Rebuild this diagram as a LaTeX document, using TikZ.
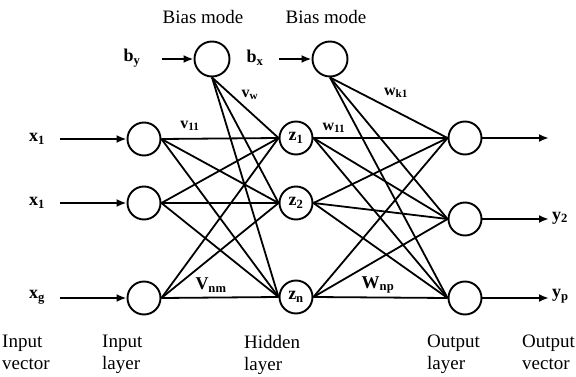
\documentclass[tikz,border=0pt]{standalone}
\usepackage{fontspec}
\setmainfont{Liberation Serif}
\usetikzlibrary{arrows.meta}
\begin{document}
\begin{tikzpicture}[x=1pt,y=-1pt,
  neuron/.style={circle,draw,line width=1.9pt,minimum size=33pt,inner sep=0pt,font=\fontsize{18}{20}\selectfont\bfseries},
  conn/.style={line width=1.8pt},
  feed/.style={line width=2pt,-{Latex[length=10pt,width=8pt]}},
  var/.style={font=\fontsize{18}{20}\selectfont\bfseries,inner sep=0pt},
  wlab/.style={font=\fontsize{16}{18}\selectfont\bfseries,inner sep=0pt},
  captext/.style={font=\fontsize{19}{22}\selectfont,align=left,inner sep=0pt,anchor=north west}]
\useasboundingbox (0,0) rectangle (576,377);

% neurons
\node[neuron] (i1) at (144,139) {};
\node[neuron] (i2) at (144,203) {};
\node[neuron] (i3) at (144,298) {};
\node[neuron] (z1) at (296,138) {z\textsubscript{1}};
\node[neuron] (z2) at (296,203) {z\textsubscript{2}};
\node[neuron] (zn) at (296,297) {z\textsubscript{n}};
\node[neuron] (o1) at (465,138) {};
\node[neuron] (o2) at (465,219) {};
\node[neuron] (o3) at (465,298) {};
\node[neuron,minimum size=35pt] (b1) at (212,59) {};
\node[neuron,minimum size=35pt] (b2) at (330,59) {};

% connections
\foreach \a in {i1,i2,i3}
  \foreach \b in {z1,z2,zn}
    \draw[conn] (\a.east) -- (\b.west);
\foreach \b in {z1,z2,zn}
  \draw[conn] (b1.south) -- (\b.west);
\foreach \a in {z1,z2,zn}
  \foreach \b in {o1,o2,o3}
    \draw[conn] (\a.east) -- (\b.west);
\foreach \b in {o1,o2,o3}
  \draw[conn] (b2.south) -- (\b.west);

% input labels and arrows
\node[var] (x1) at (37,139) {x\textsubscript{1}};
\node[var] (x2) at (37,203) {x\textsubscript{1}};
\node[var] (x3) at (37,297) {x\textsubscript{g}};
\coordinate (s1) at (60,139);
\coordinate (s2) at (60,203);
\coordinate (s3) at (60,298);
\draw[feed] (s1) -- (i1.west);
\draw[feed] (s2) -- (i2.west);
\draw[feed] (s3) -- (i3.west);

% bias
\node[font=\fontsize{19}{22}\selectfont,inner sep=0pt] (bm1) at (203,17) {Bias mode};
\node[font=\fontsize{19}{22}\selectfont,inner sep=0pt] (bm2) at (326,17) {Bias mode};
\node[var] (by) at (132,58) {b\textsubscript{y}};
\node[var] (bx) at (255,58) {b\textsubscript{x}};
\coordinate (sb1) at (162,59);
\coordinate (sb2) at (279,59);
\draw[feed] (sb1) -- (b1.west);
\draw[feed] (sb2) -- (b2.west);

% output arrows
\coordinate (e1) at (549,138);
\coordinate (e2) at (549,219);
\coordinate (e3) at (549,298);
\draw[feed] (o1.east) -- (e1);
\draw[feed] (o2.east) -- (e2);
\draw[feed] (o3.east) -- (e3);
\node[var,anchor=west] (y2) at (552,218) {y\textsubscript{2}};
\node[var,anchor=west] (yp) at (552,296) {y\textsubscript{p}};

% weight labels
\node[wlab] (v11) at (190,126) {v\textsubscript{11}};
\node[wlab] (vw) at (250,95) {v\textsubscript{w}};
\node[wlab,font=\fontsize{18}{20}\selectfont\bfseries] (vnm) at (211,285) {V\textsubscript{nm}};
\node[wlab] (w11) at (334,128) {w\textsubscript{11}};
\node[wlab] (wk1) at (396,93) {w\textsubscript{k1}};
\node[wlab,font=\fontsize{18}{20}\selectfont\bfseries] (wnp) at (378,285) {W\textsubscript{np}};

% captions
\node[captext] (c1) at (2,335) {Input\\vector};
\node[captext] (c2) at (102,335) {Input\\layer};
\node[captext] (c3) at (244,335) {Hidden\\layer};
\node[captext] (c4) at (427,335) {Output\\layer};
\node[captext] (c5) at (522,335) {Output\\vector};
\end{tikzpicture}
\end{document}
